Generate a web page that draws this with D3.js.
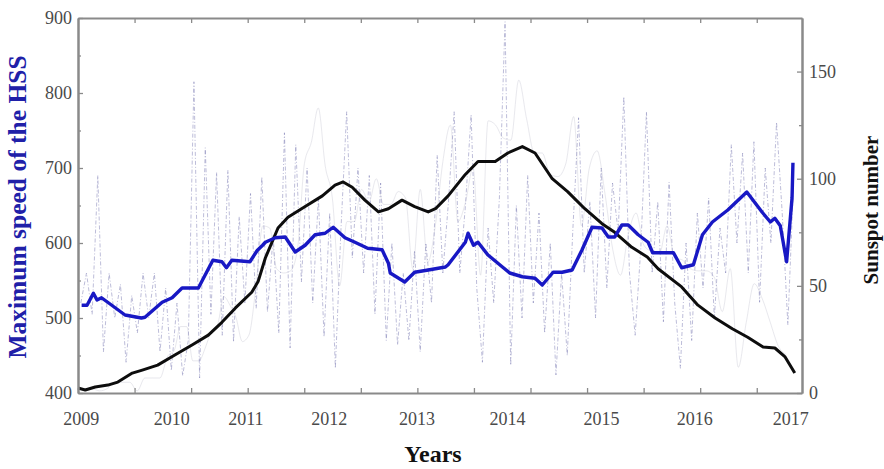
<!DOCTYPE html>
<html>
<head>
<meta charset="utf-8">
<script src="https://cdn.jsdelivr.net/npm/d3@7/dist/d3.min.js"></script>
<style>
  body { margin: 0; background: #fff; }
  svg text { font-family: "Liberation Serif", "Times New Roman", serif; }
</style>
</head>
<body>
<svg id="chart" width="884" height="469"></svg>
<script>
// x axis runs in plot years (frame 2009..2017), labels sit where the figure put them
const yearLabels = ["2009", "2010", "2011", "2012", "2013", "2014", "2015", "2016", "2017"];
const labelAt = [2009.03, 2010.03, 2010.85, 2011.77, 2012.74, 2013.74, 2014.78, 2015.81, 2016.87];
const xTickStep = 0.625;

// individual HSS maximum speeds (km/s), one every 1/16 of a year from 2009
const rawStep = 1 / 16;
const rawSpeed = [
  520, 560, 505, 690, 455, 560, 500, 545, 441, 530, 480, 560, 500, 560, 455, 540,
  430, 520, 423, 470, 815, 420, 727, 505, 694, 477, 697, 468, 635, 520, 666, 513,
  688, 508, 610, 480, 747, 460, 731, 548, 700, 520, 660, 475, 640, 433, 620, 775,
  580, 700, 560, 690, 505, 680, 470, 600, 464, 560, 470, 590, 455, 600, 520, 717,
  560, 655, 775, 560, 650, 771, 540, 441, 620, 520, 660, 895, 437, 650, 500, 690,
  520, 640, 480, 600, 424, 560, 450, 620, 767, 560, 655, 500, 700, 540, 680, 615,
  795, 560, 477, 593, 775, 560, 655, 495, 681, 520, 433, 600, 470, 640, 540, 660,
  500, 620, 560, 731, 600, 720, 560, 735, 521, 700, 600, 761, 640, 491, 680
];

// running mean of HSS speed (blue, left axis)
const meanYears = [
  2009.04, 2009.10, 2009.17, 2009.21, 2009.26, 2009.52, 2009.70, 2009.74, 2009.93, 2010.04,
  2010.15, 2010.33, 2010.49, 2010.59, 2010.64, 2010.70, 2010.90, 2010.98, 2011.04, 2011.07,
  2011.18, 2011.29, 2011.40, 2011.51, 2011.62, 2011.73, 2011.82, 2011.95, 2012.06, 2012.20,
  2012.36, 2012.43, 2012.45, 2012.61, 2012.72, 2012.87, 2013.06, 2013.09, 2013.28, 2013.31,
  2013.37, 2013.42, 2013.53, 2013.69, 2013.77, 2013.91, 2014.05, 2014.13, 2014.25, 2014.35,
  2014.46, 2014.57, 2014.68, 2014.79, 2014.86, 2014.93, 2015.01, 2015.08, 2015.19, 2015.30,
  2015.35, 2015.58, 2015.67, 2015.80, 2015.90, 2016.01, 2016.18, 2016.39, 2016.56, 2016.65,
  2016.70, 2016.76, 2016.83, 2016.89, 2016.90
];
const meanSpeed = [
  517, 517, 533, 524, 527, 504, 500, 501, 521, 527,
  540, 540, 577, 575, 567, 577, 575, 590, 597, 601,
  607, 608, 588, 597, 611, 613, 621, 607, 601, 593,
  591, 573, 560, 548, 561, 564, 568, 571, 601, 613,
  597, 601, 584, 568, 560, 555, 553, 544, 561, 561,
  564, 591, 621, 620, 608, 608, 624, 624, 611, 601,
  587, 587, 567, 571, 611, 628, 644, 668, 641, 628,
  633, 623, 575, 660, 707
];

// smoothed sunspot number (black, right axis)
const ssnYears = [
  2009.00, 2009.08, 2009.19, 2009.33, 2009.44, 2009.60, 2009.71, 2009.88, 2010.07, 2010.26,
  2010.44, 2010.59, 2010.74, 2010.92, 2010.99, 2011.07, 2011.21, 2011.32, 2011.51, 2011.70,
  2011.84, 2011.93, 2012.03, 2012.17, 2012.32, 2012.43, 2012.58, 2012.72, 2012.87, 2012.95,
  2013.09, 2013.28, 2013.42, 2013.61, 2013.75, 2013.91, 2014.05, 2014.24, 2014.41, 2014.60,
  2014.79, 2014.93, 2015.12, 2015.29, 2015.41, 2015.67, 2015.85, 2016.04, 2016.23, 2016.40,
  2016.57, 2016.70, 2016.81, 2016.92
];
const ssnSmooth = [
  2.3, 1.4, 2.8, 3.7, 5.1, 9.3, 10.7, 13, 17.7, 22.4,
  27, 33, 39.7, 47, 52, 63, 77, 82, 87, 92,
  97, 98.5, 96, 90, 84.5, 86, 90, 87, 84.5, 86,
  92, 102, 108, 108, 112, 115, 112, 100, 94, 86,
  79, 75, 68, 63.5, 58, 49.5, 41, 35, 30, 26,
  21.5, 21, 17, 9.3
];

// monthly sunspot number (faint grey, right axis), Jan 2009 .. Dec 2016
const ssnMonthly = [
  2, 2, 1, 2, 5, 5, 5, 1, 7, 7, 7, 17,
  20, 31, 31, 15, 15, 21, 29, 32, 45, 41, 35, 24,
  27, 49, 78, 77, 58, 56, 57, 67, 107, 117, 133, 106,
  91, 50, 80, 80, 95, 89, 100, 88, 88, 94, 91, 58,
  95, 61, 78, 108, 125, 80, 89, 105, 55, 127, 125, 119,
  118, 146, 128, 112, 112, 102, 101, 107, 129, 78, 105, 113,
  93, 67, 55, 74, 84, 69, 66, 65, 78, 63, 62, 58,
  57, 57, 54, 38, 58, 12, 33, 51, 44, 33, 22, 18
];

const svg = d3.select("#chart");
const plotL = 78, plotT = 18, plotR = 802, plotB = 393;

const x = d3.scaleLinear().domain([2009, 2017]).range([plotL, plotR]);
const yL = d3.scaleLinear().domain([400, 900]).range([plotB, plotT]);
const yR = d3.scaleLinear().domain([0, 175]).range([plotB, plotT]);
// calendar year -> plot year, following the printed year labels
const calToPlot = d3.scaleLinear().domain(yearLabels.map(Number)).range(labelAt);

const axisCol = "#8a8a8a", textCol = "#4a4a4a";

// faint monthly sunspot line
svg.append("path")
    .datum(ssnMonthly)
    .attr("fill", "none")
    .attr("stroke", "#d2d2dc")
    .attr("stroke-width", 1)
    .attr("opacity", 0.5)
    .attr("d", d3.line()
      .x((d, i) => x(calToPlot(2009 + (i + 0.5) / 12)))
      .y(d => yR(d))
      .curve(d3.curveMonotoneX));

// raw HSS speeds, dash-dot
svg.append("path")
    .datum(rawSpeed)
    .attr("fill", "none")
    .attr("stroke", "#7474ae")
    .attr("stroke-width", 0.8)
    .attr("opacity", 0.6)
    .attr("stroke-dasharray", "4,2,1,2")
    .attr("d", d3.line()
      .x((d, i) => x(2009 + (i + 0.5) * rawStep))
      .y(d => yL(d)));

// smoothed sunspot number
svg.append("path")
    .datum(ssnYears.map((t, i) => [t, ssnSmooth[i]]))
    .attr("fill", "none")
    .attr("stroke", "#0d0d0d")
    .attr("stroke-width", 3)
    .attr("stroke-linejoin", "round")
    .attr("d", d3.line().x(d => x(d[0])).y(d => yR(d[1])));

// running mean HSS speed
svg.append("path")
    .datum(meanYears.map((t, i) => [t, meanSpeed[i]]))
    .attr("fill", "none")
    .attr("stroke", "#1818c4")
    .attr("stroke-width", 3.4)
    .attr("stroke-linejoin", "round")
    .attr("d", d3.line().x(d => x(d[0])).y(d => yL(d[1])));

// axes
const xTicks = d3.range(1, 13).map(k => 2009 + k * xTickStep);

function styleAxis(g) {
  g.select(".domain").attr("stroke", axisCol).attr("stroke-width", 2);
  g.selectAll(".tick line").attr("stroke", axisCol).attr("stroke-width", 1.3);
  g.selectAll(".tick text").attr("fill", textCol).style("font-size", "18px");
}

svg.append("g").attr("transform", `translate(0,${plotB})`)
    .call(d3.axisBottom(x).tickValues(xTicks).tickSize(-5).tickSizeOuter(0).tickFormat(""))
    .call(styleAxis);
svg.append("g").attr("transform", `translate(0,${plotT})`)
    .call(d3.axisTop(x).tickValues(xTicks).tickSize(-5).tickSizeOuter(0).tickFormat(""))
    .call(styleAxis);
svg.append("g").attr("transform", `translate(0,${plotB})`)
    .call(d3.axisBottom(x).tickValues(labelAt).tickSize(0).tickPadding(19)
      .tickFormat((d, i) => yearLabels[i]))
    .call(g => g.select(".domain").remove())
    .call(styleAxis);

svg.append("g").attr("transform", `translate(${plotL},0)`)
    .call(d3.axisLeft(yL).tickValues(d3.range(400, 901, 100)).tickSize(-5).tickSizeOuter(0).tickPadding(6))
    .call(styleAxis);
svg.append("g").attr("transform", `translate(${plotL},0)`)
    .call(d3.axisLeft(yL).tickValues(d3.range(450, 900, 100)).tickSize(-3).tickSizeOuter(0).tickFormat(""))
    .call(styleAxis);

svg.append("g").attr("transform", `translate(${plotR},0)`)
    .call(d3.axisRight(yR).tickValues([0, 50, 100, 150]).tickSize(-5).tickSizeOuter(0).tickPadding(7))
    .call(styleAxis);
svg.append("g").attr("transform", `translate(${plotR},0)`)
    .call(d3.axisRight(yR).tickValues([25, 75, 125]).tickSize(-3).tickSizeOuter(0).tickFormat(""))
    .call(styleAxis);

// titles
svg.append("text")
    .attr("transform", `translate(26,207) rotate(-90)`)
    .attr("text-anchor", "middle")
    .attr("fill", "#2020a8")
    .style("font-size", "25.5px")
    .style("font-weight", "bold")
    .text("Maximum speed of the HSS");

svg.append("text")
    .attr("transform", `translate(878,210) rotate(-90)`)
    .attr("text-anchor", "middle")
    .attr("fill", "#111")
    .style("font-size", "21px")
    .style("font-weight", "bold")
    .text("Sunspot number");

svg.append("text")
    .attr("x", 433)
    .attr("y", 462)
    .attr("text-anchor", "middle")
    .attr("fill", "#111")
    .style("font-size", "24px")
    .style("font-weight", "bold")
    .text("Years");
</script>
</body>
</html>
